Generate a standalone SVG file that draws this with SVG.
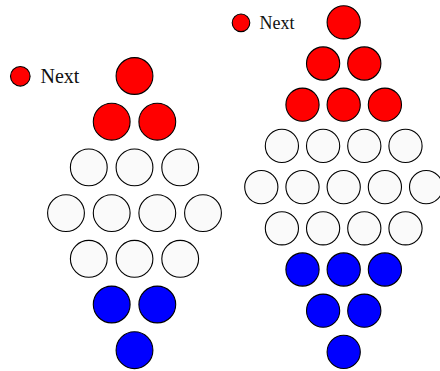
<svg xmlns="http://www.w3.org/2000/svg" width="440" height="371" viewBox="0 0 440 371">
<style>
circle{stroke:#000;stroke-width:1.1}
.r{fill:#ff0000}
.w{fill:#fafafa}
.b{fill:#0000ff}
.L circle{r:18.4px}
.R circle{r:16.6px}
text{font-family:"Liberation Serif","Times New Roman",serif;fill:#111}
</style>
<rect width="440" height="371" fill="#fff"/>
<g id="legend-left"><circle class="r" cx="20.3" cy="76.3" r="9.8" style="r:9.8px"/><text x="40.5" y="83" font-size="20">Next</text></g>
<g id="legend-right"><circle class="r" cx="241" cy="22.8" r="8.8" style="r:8.8px"/><text x="259.5" y="29" font-size="18">Next</text></g>
<g id="left" class="L">
<g id="L1a"><circle class="r" cx="134.5" cy="76" r="18.4"/></g>
<g id="L2a"><circle class="r" cx="111.7" cy="121.7" r="18.4"/></g>
<g id="L2b"><circle class="r" cx="157.3" cy="121.7" r="18.4"/></g>
<g id="L3a"><circle class="w" cx="88.8" cy="167.4" r="18.4"/></g>
<g id="L3b"><circle class="w" cx="134.5" cy="167.4" r="18.4"/></g>
<g id="L3c"><circle class="w" cx="180.2" cy="167.4" r="18.4"/></g>
<g id="L4a"><circle class="w" cx="66" cy="213.1" r="18.4"/></g>
<g id="L4b"><circle class="w" cx="111.7" cy="213.1" r="18.4"/></g>
<g id="L4c"><circle class="w" cx="157.3" cy="213.1" r="18.4"/></g>
<g id="L4d"><circle class="w" cx="203" cy="213.1" r="18.4"/></g>
<g id="L5a"><circle class="w" cx="88.8" cy="258.8" r="18.4"/></g>
<g id="L5b"><circle class="w" cx="134.5" cy="258.8" r="18.4"/></g>
<g id="L5c"><circle class="w" cx="180.2" cy="258.8" r="18.4"/></g>
<g id="L6a"><circle class="b" cx="111.7" cy="304.5" r="18.4"/></g>
<g id="L6b"><circle class="b" cx="157.3" cy="304.5" r="18.4"/></g>
<g id="L7a"><circle class="b" cx="134.5" cy="350.2" r="18.4"/></g>
</g>
<g id="right" class="R">
<g id="R1a"><circle class="r" cx="343.7" cy="22.3" r="16.6"/></g>
<g id="R2a"><circle class="r" cx="323.1" cy="63.5" r="16.6"/></g>
<g id="R2b"><circle class="r" cx="364.3" cy="63.5" r="16.6"/></g>
<g id="R3a"><circle class="r" cx="302.5" cy="104.7" r="16.6"/></g>
<g id="R3b"><circle class="r" cx="343.7" cy="104.7" r="16.6"/></g>
<g id="R3c"><circle class="r" cx="384.9" cy="104.7" r="16.6"/></g>
<g id="R4a"><circle class="w" cx="281.9" cy="145.9" r="16.6"/></g>
<g id="R4b"><circle class="w" cx="323.1" cy="145.9" r="16.6"/></g>
<g id="R4c"><circle class="w" cx="364.3" cy="145.9" r="16.6"/></g>
<g id="R4d"><circle class="w" cx="405.5" cy="145.9" r="16.6"/></g>
<g id="R5a"><circle class="w" cx="261.3" cy="187.1" r="16.6"/></g>
<g id="R5b"><circle class="w" cx="302.5" cy="187.1" r="16.6"/></g>
<g id="R5c"><circle class="w" cx="343.7" cy="187.1" r="16.6"/></g>
<g id="R5d"><circle class="w" cx="384.9" cy="187.1" r="16.6"/></g>
<g id="R5e"><circle class="w" cx="426.1" cy="187.1" r="16.6"/></g>
<g id="R6a"><circle class="w" cx="281.9" cy="228.3" r="16.6"/></g>
<g id="R6b"><circle class="w" cx="323.1" cy="228.3" r="16.6"/></g>
<g id="R6c"><circle class="w" cx="364.3" cy="228.3" r="16.6"/></g>
<g id="R6d"><circle class="w" cx="405.5" cy="228.3" r="16.6"/></g>
<g id="R7a"><circle class="b" cx="302.5" cy="269.5" r="16.6"/></g>
<g id="R7b"><circle class="b" cx="343.7" cy="269.5" r="16.6"/></g>
<g id="R7c"><circle class="b" cx="384.9" cy="269.5" r="16.6"/></g>
<g id="R8a"><circle class="b" cx="323.1" cy="310.7" r="16.6"/></g>
<g id="R8b"><circle class="b" cx="364.3" cy="310.7" r="16.6"/></g>
<g id="R9a"><circle class="b" cx="343.7" cy="351.9" r="16.6"/></g>
</g>
<g id="connectors"/>
</svg>
